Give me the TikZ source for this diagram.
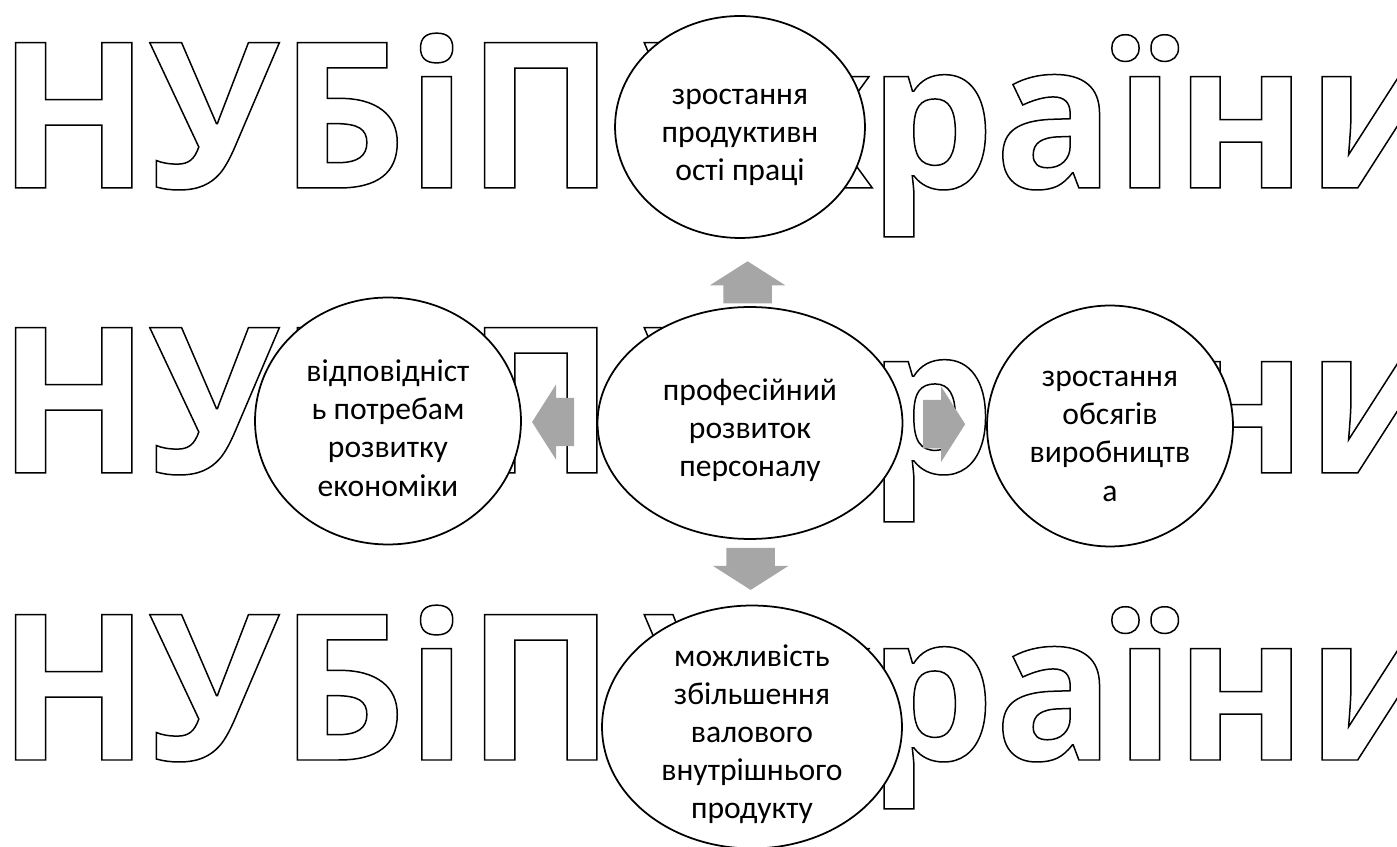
\documentclass[tikz,border=0pt]{standalone}
\usepackage{fontspec}
\setmainfont{Carlito}
\newfontfamily\wmfont{Open Sans}[FakeStretch=0.975]
\newfontfamily\wmnarrow{Open Sans}[FakeStretch=0.88]
\usetikzlibrary{shapes.geometric, shapes.arrows, calc}
\definecolor{arrowgray}{HTML}{A6A6A6}

% hollow letters for the background stamp
\newcommand{\outlined}[1]{\special{pdf:literal direct 1 Tr 0.85 w}#1\special{pdf:literal direct 0 Tr}}
% pushes the lines of a bubble a little down
\newcommand{\topgap}{\rule{0pt}{0.72cm}}

\begin{document}
\begin{tikzpicture}[x=0.02cm, y=-0.02cm, thick,
    main node/.style={ellipse, draw, fill=white, line width=1pt, inner sep=-0.4cm,
                      align=center, font=\fontsize{18}{21.7}\selectfont},
    block arrow/.style={single arrow, fill=arrowgray, inner xsep=0pt, inner ysep=0.47cm,
                        minimum height=0.84cm, single arrow head extend=0.27cm,
                        single arrow tip angle=115},
    wm text/.style={inner sep=0pt, font=\wmfont\bfseries\fontsize{116}{116}\selectfont}]

  \useasboundingbox (0,0) rectangle (1397,847);

  % background stamp
  \foreach \row/\y in {1/188, 2/473, 3/760} {
    \node[wm text, anchor=base west] (wm a\row) at (-3,\y) {\outlined{НУБіП}};
    \node[wm text, anchor=base east, font=\wmnarrow\bfseries\fontsize{116}{116}\selectfont]
      (wm b\row) at (873,\y) {\outlined{Ук}};
    \node[wm text, anchor=base west] (wm c\row) at (868,\y) {\outlined{раїни}};
  }

  \node[main node, minimum width=6.1cm, minimum height=4.64cm] (centre) at (750,423) {\topgap професійний\\розвиток\\персоналу};
  \node[main node, minimum width=5cm, minimum height=4.44cm] (top) at (740,127) {\topgap зростання\\продуктивн\\ості праці};
  \node[main node, minimum width=5.32cm, minimum height=4.94cm] (left) at (388,421) {\topgap відповідніст\\ь потребам\\розвитку\\економіки};
  \node[main node, minimum width=4.92cm, minimum height=4.82cm] (right) at (1110,426) {\topgap зростання\\обсягів\\виробництв\\а};
  \node[main node, minimum width=6cm, minimum height=4.86cm] (bottom) at (752,727) {\topgap можливість\\збільшення\\валового\\внутрішнього\\продукту};

  \node[block arrow, rotate=90] (a up) at ($(centre.north)!0.24!(top.south)$) {};
  \node[block arrow, rotate=270] (a down) at ($(centre.south)!0.33!(bottom.north)$) {};
  \node[block arrow, rotate=180] (a left) at ($(centre.west)!0.48!(left.east)$) {};
  \node[block arrow] (a right) at ($(centre.east)!0.4!(right.west)$) {};
\end{tikzpicture}
\end{document}
